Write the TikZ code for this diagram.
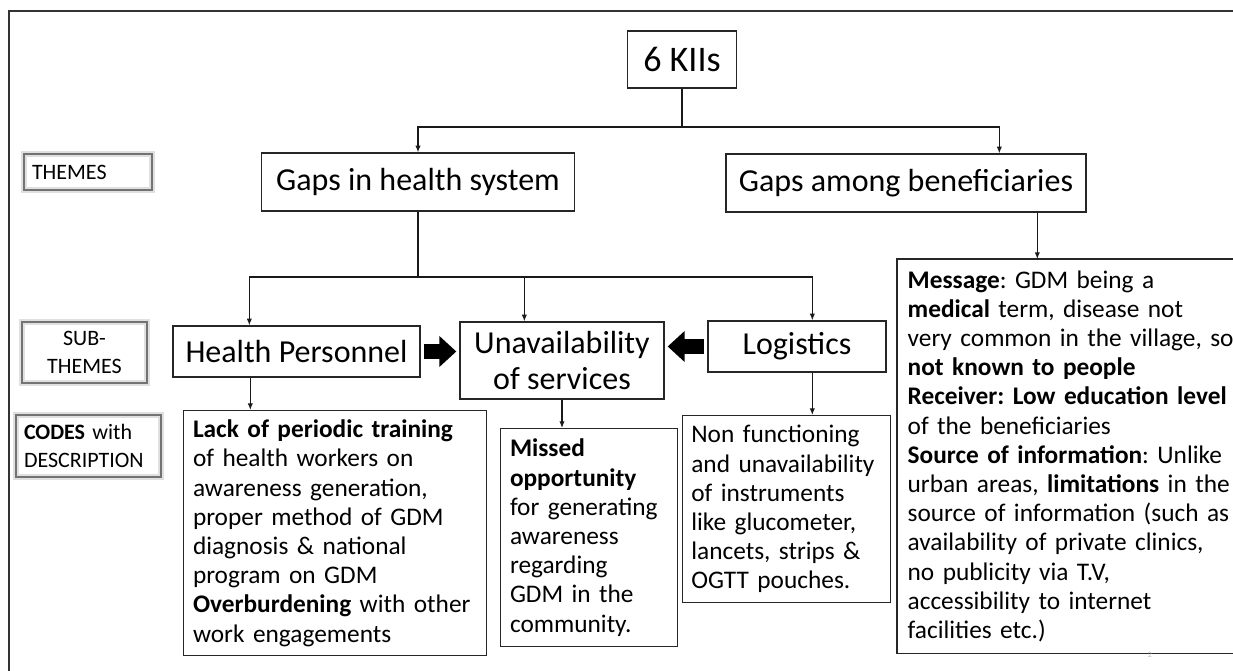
\documentclass[tikz,border=0pt]{standalone}
\usepackage{fontspec}
\setmainfont{Carlito}
\usetikzlibrary{arrows.meta,calc}
\frenchspacing

\begin{document}
\begin{tikzpicture}[x=0.75pt, y=-0.75pt,
  mainbox/.style={rectangle, draw=black!85, line width=1pt, align=center, inner sep=2pt, font=\fontsize{24}{27.5}\selectfont},
  codebox/.style={rectangle, draw=black!85, line width=1pt, anchor=north west, align=left, inner xsep=7pt, inner ysep=2pt, font=\fontsize{19}{21.9}\selectfont},
  sidebox/.style={rectangle, draw=black!55, line width=0.9pt, preaction={draw=black!12, line width=4pt}, inner xsep=6pt, font=\fontsize{16.5}{21}\selectfont},
  link/.style={draw=black!90, line width=0.9pt, -{Latex[length=5pt,width=4pt]}},
  fatarrow/.style={black, line width=11.25pt, -{Triangle[length=12.75pt,width=22.5pt]}, shorten <=2.25pt, shorten >=2.25pt}]

\useasboundingbox (0,0) rectangle (1233,671);

% Frame
\draw[black!80, line width=1.8pt] (9,700) -- (9,11) -- (1260,11);

% Side labels
\node (themes) [sidebox, text width=84pt, align=left, minimum width=96pt, minimum height=27pt] at (88,172) {THEMES};
\node (subthemes) [sidebox, align=center, minimum width=93.75pt, minimum height=45.75pt] at (84.5,352.5) {SUB-\\THEMES};
\node (codes) [sidebox, text width=96.75pt, align=left, minimum width=108.75pt, minimum height=46.5pt] at (88.5,446) {\textbf{CODES} with\\DESCRIPTION};

% Nodes
\node (kii) [mainbox, minimum width=81.75pt, minimum height=42.75pt, font=\fontsize{27}{30}\selectfont] at (682,59.5) {6 KIIs};
\node (ghs) [mainbox, minimum width=234.75pt, minimum height=43.5pt] at (418,182) {Gaps in health system};
\node (gab) [mainbox, minimum width=270pt, minimum height=43.5pt] at (906,183) {Gaps among beneficiaries};
\node (hp) [mainbox, minimum width=185.25pt, minimum height=38.25pt] at (296.5,351.5) {Health Personnel};
\node (uos) [mainbox, minimum width=153pt, minimum height=57.75pt] at (562,360.5) {Unavailability\\of services};
\node (log) [mainbox, minimum width=133.5pt, minimum height=38.25pt] at (797,346.5) {Logistics};

\node (lack) [codebox, text width=213.25pt, minimum width=227.25pt, minimum height=183.75pt] at (183,410)
  {\textbf{Lack of periodic training}\\of health workers on\\awareness generation,\\proper method of GDM\\diagnosis \& national\\program on GDM\\\textbf{Overburdening} with other\\work engagements};
\node (missed) [codebox, text width=118.75pt, minimum width=132.75pt, minimum height=163.5pt] at (500,428)
  {\textbf{Missed}\\\textbf{opportunity}\\for generating\\awareness\\regarding\\GDM in the\\community.};
\node (nonf) [codebox, text width=143pt, minimum width=156pt, minimum height=140.25pt, inner xsep=6.5pt] at (682,415)
  {Non functioning\\and unavailability\\of instruments\\like glucometer,\\lancets, strips \&\\OGTT pouches.};
\node (msg) [codebox, draw=none, text width=385pt, minimum width=400pt, minimum height=294.75pt, inner xsep=7.5pt] at (897,259)
  {\textbf{Message}: GDM being a\\\textbf{medical} term, disease not\\very common in the village, so\\\textbf{not known to people}\\\textbf{Receiver: Low education level}\\of the beneficiaries\\\textbf{Source of information}: Unlike\\urban areas, \textbf{limitations} in the\\source of information (such as\\availability of private clinics,\\no publicity via T.V,\\accessibility to internet\\facilities etc.)};
\draw[black!85, line width=1pt] (msg.north east) -- (msg.north west) -- (msg.south west) -- (msg.south east);
\node (pageno) [text=black!25, font=\fontsize{6}{7}\selectfont] at (1150,655) {2};

% Arrows
\coordinate (kiisplit) at (682,127);
\coordinate (ghssplit) at (418,277);
\coordinate (hpout) at ($(hp.south west)+(78,0)$);
\coordinate (logout) at ($(log.south west)+(105,0)$);
\coordinate (gabout) at ($(gab.south west)+(312,0)$);

\draw[black!90, line width=0.9pt] (kii) -- (kiisplit);
\draw[link] (kiisplit) -| (ghs.north);
\draw[link] (kiisplit) -| ($(gab.north west)+(274,0)$);
\draw[link] (gabout) -- (gabout |- msg.north);

\draw[black!90, line width=0.9pt] (ghs) -- (ghssplit);
\draw[link] (ghssplit) -| ($(hp.north west)+(77,0)$);
\draw[link] (ghssplit) -| ($(uos.north west)+(65,0)$);
\draw[link] (ghssplit) -| ($(log.north west)+(105,0)$);

\draw[link] (hpout) -- (hpout |- lack.north);
\draw[link] (uos.south) -- (uos.south |- missed.north);
\draw[link] (logout) -- (logout |- nonf.north);

\draw[fatarrow] (hp.east) -- (hp.east -| uos.west);
\draw[fatarrow] (log.west) -- (log.west -| uos.east);

\end{tikzpicture}
\end{document}
